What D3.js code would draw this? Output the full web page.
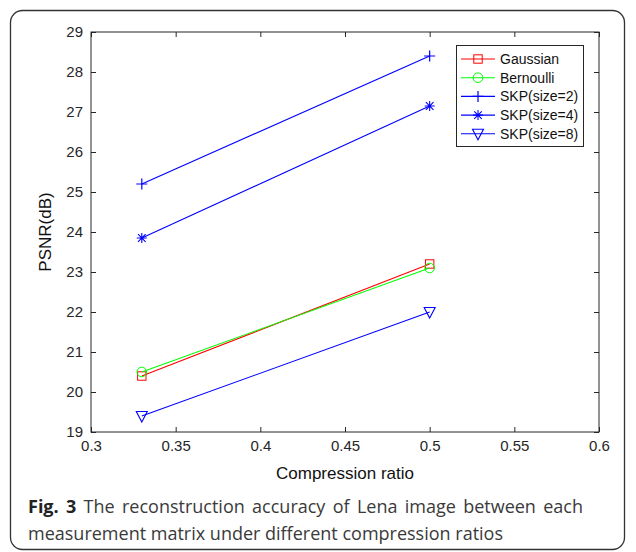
<!DOCTYPE html>
<html><head><meta charset="utf-8">
<script src="https://cdn.jsdelivr.net/npm/d3@7"></script>
<style>html,body{margin:0;padding:0;background:#fff;}</style>
</head><body>
<svg id="c" width="636" height="552"></svg>
<script>
const ratios = [0.33, 0.5];
const seriesNames = ["Gaussian", "Bernoulli", "SKP(size=2)", "SKP(size=4)", "SKP(size=8)"];
const gaussian = [20.4, 23.2];
const bernoulli = [20.5, 23.1];
const skp2 = [25.2, 28.4];
const skp4 = [23.85, 27.15];
const skp8 = [19.4, 22.0];
const xTicks = [0.3, 0.35, 0.4, 0.45, 0.5, 0.55, 0.6];
const yTicks = [19, 20, 21, 22, 23, 24, 25, 26, 27, 28, 29];

const series = [
  {name: seriesNames[0], values: gaussian, color: "#ff0000", marker: "square"},
  {name: seriesNames[1], values: bernoulli, color: "#00ff00", marker: "circle"},
  {name: seriesNames[2], values: skp2, color: "#0000ff", marker: "plus"},
  {name: seriesNames[3], values: skp4, color: "#0000ff", marker: "star"},
  {name: seriesNames[4], values: skp8, color: "#0000ff", marker: "tri"}
];

const svg = d3.select("#c");
// frame
svg.append("rect").attr("x", 10.5).attr("y", 10.5).attr("width", 614).attr("height", 539)
  .attr("rx", 12).attr("fill", "#fff").attr("stroke", "#333").attr("stroke-width", 1.3);

const L = 91, R = 599, T = 32, B = 432;
const x = d3.scaleLinear().domain([0.3, 0.6]).range([L, R]);
const y = d3.scaleLinear().domain([19, 29]).range([B, T]);
const tl = 5;
const font = "'Liberation Sans', Arial, sans-serif";

const g = svg.append("g");
// axes
const xa = g.append("g").attr("transform", `translate(0,${B})`)
  .call(d3.axisBottom(x).tickValues(xTicks).tickSize(-tl).tickPadding(8).tickFormat(d3.format("")));
const xt = g.append("g").attr("transform", `translate(0,${T})`)
  .call(d3.axisTop(x).tickValues(xTicks).tickSize(-tl).tickFormat(""));
const ya = g.append("g").attr("transform", `translate(${L},0)`)
  .call(d3.axisLeft(y).tickValues(yTicks).tickSize(-tl).tickPadding(8));
const yr = g.append("g").attr("transform", `translate(${R},0)`)
  .call(d3.axisRight(y).tickValues(yTicks).tickSize(-tl).tickFormat(""));
[xa, xt, ya, yr].forEach(a => {
  a.select(".domain").remove();
  a.selectAll("line").attr("stroke", "#262626").attr("stroke-width", 1);
  a.selectAll("text").attr("font-family", font).attr("font-size", 15).attr("fill", "#262626");
});
g.append("rect").attr("x", L).attr("y", T).attr("width", R - L).attr("height", B - T)
  .attr("fill", "none").attr("stroke", "#262626").attr("stroke-width", 1);

// labels
svg.append("text").attr("x", (L + R) / 2).attr("y", 479).attr("text-anchor", "middle")
  .attr("font-family", font).attr("font-size", 17).attr("fill", "#111").text("Compression ratio");
svg.append("text").attr("transform", `translate(51,${(T + B) / 2}) rotate(-90)`).attr("text-anchor", "middle")
  .attr("font-family", font).attr("font-size", 17).attr("fill", "#111").text("PSNR(dB)");

function drawMarker(sel, type, cx, cy, color) {
  const s = 4.2;
  if (type === "square") {
    sel.append("rect").attr("x", cx - s).attr("y", cy - s).attr("width", 2 * s).attr("height", 2 * s)
      .attr("fill", "none").attr("stroke", color).attr("stroke-width", 1);
  } else if (type === "circle") {
    sel.append("circle").attr("cx", cx).attr("cy", cy).attr("r", 4.8)
      .attr("fill", "none").attr("stroke", color).attr("stroke-width", 1);
  } else if (type === "plus") {
    const p = 5.5;
    sel.append("path").attr("d", `M${cx - p},${cy}H${cx + p}M${cx},${cy - p}V${cy + p}`)
      .attr("stroke", color).attr("stroke-width", 1.2).attr("fill", "none");
  } else if (type === "star") {
    const p = 5, d = 3.8;
    sel.append("path").attr("d", `M${cx - p},${cy}H${cx + p}M${cx},${cy - p}V${cy + p}M${cx - d},${cy - d}L${cx + d},${cy + d}M${cx - d},${cy + d}L${cx + d},${cy - d}`)
      .attr("stroke", color).attr("stroke-width", 1.1).attr("fill", "none");
  } else if (type === "tri") {
    const w = 5.5;
    sel.append("path").attr("d", `M${cx - w},${cy - 4.5}H${cx + w}L${cx},${cy + 6}Z`)
      .attr("stroke", color).attr("stroke-width", 1.1).attr("fill", "none");
  }
}

const line = d3.line().x((d, i) => x(ratios[i])).y(d => y(d));
series.forEach(s => {
  g.append("path").datum(s.values).attr("d", line).attr("fill", "none")
    .attr("stroke", s.color).attr("stroke-width", 1.1);
  s.values.forEach((v, i) => drawMarker(g, s.marker, x(ratios[i]), y(v), s.color));
});

// legend
const lg = svg.append("g");
lg.append("rect").attr("x", 456.5).attr("y", 45.5).attr("width", 127).attr("height", 101)
  .attr("fill", "#fff").attr("stroke", "#262626").attr("stroke-width", 1);
series.forEach((s, i) => {
  const yy = 59 + i * 18.7;
  lg.append("line").attr("x1", 461).attr("x2", 495).attr("y1", yy).attr("y2", yy)
    .attr("stroke", s.color).attr("stroke-width", 1.1);
  drawMarker(lg, s.marker, 478, yy, s.color);
  lg.append("text").attr("x", 500).attr("y", yy + 5).attr("font-family", font).attr("font-size", 14)
    .attr("fill", "#111").text(s.name);
});

// caption
const cf = "'Open Sans', 'Noto Sans', sans-serif";
const c1 = svg.append("text").attr("x", 28).attr("y", 513).attr("font-family", cf).attr("font-size", 18).attr("fill", "#3a3a3a");
c1.append("tspan").attr("font-weight", "bold").attr("fill", "#222").text("Fig. 3");
c1.append("tspan").text(" The reconstruction accuracy of Lena image between each");
// justify first line to the right margin
const w1 = c1.node().getComputedTextLength();
const gaps = 9;
c1.attr("word-spacing", Math.max(0, (583 - 28 - w1) / gaps));
svg.append("text").attr("x", 28).attr("y", 540).attr("font-family", cf).attr("font-size", 18).attr("fill", "#3a3a3a")
  .text("measurement matrix under different compression ratios");
</script>
</body></html>
